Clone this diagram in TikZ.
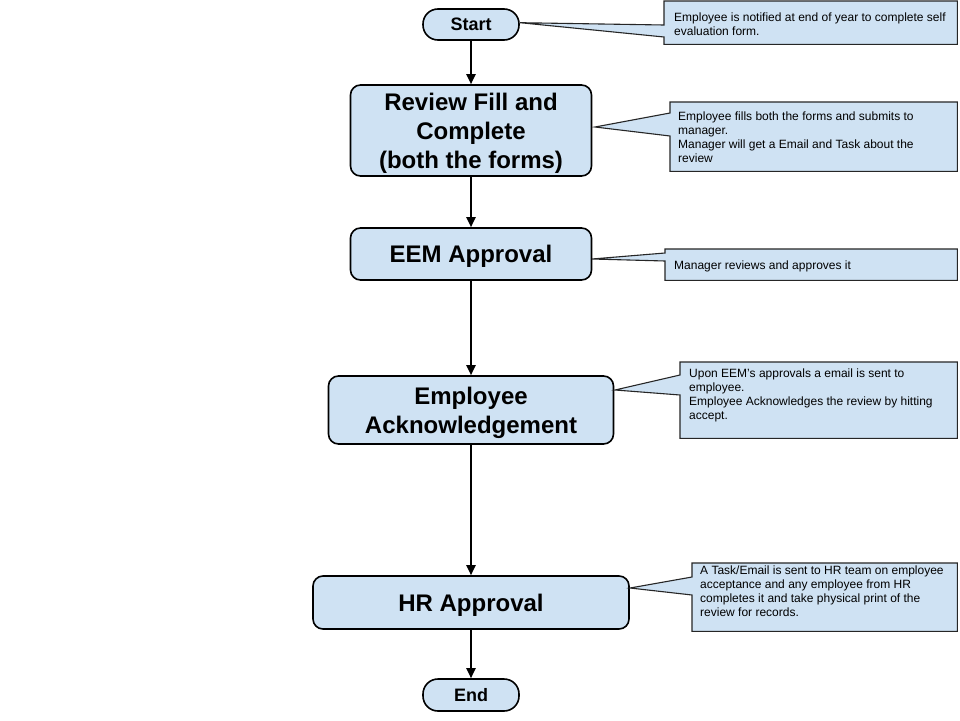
\documentclass[tikz,border=0pt]{standalone}
\usepackage{fontspec}
\setmainfont{Liberation Sans}
\usetikzlibrary{arrows.meta,calc}
\definecolor{boxfill}{HTML}{CFE2F3}

\begin{document}
\begin{tikzpicture}[x=1pt,y=-1pt,
  stepbox/.style={draw=black, line width=1.6pt, fill=boxfill, rounded corners=10pt,
    inner sep=0pt, align=center, text depth=0pt, font=\fontsize{24}{29}\selectfont\bfseries},
  terminal/.style={stepbox, rounded corners=15pt, font=\fontsize{18}{20}\selectfont\bfseries},
  flow/.style={draw=black, line width=2pt, -{Triangle[length=10pt,width=9pt]}},
  notebox/.style={draw=none, inner sep=0pt, anchor=north west},
  notetext/.style={inner sep=0pt, anchor=north west, align=left,
    font=\fontsize{12}{14}\selectfont},
  noteshape/.style={draw=black!85, line width=1.1pt, fill=boxfill, line join=miter}
]
\useasboundingbox[fill=white] (0,0) rectangle (960,720);

% process steps, all on one vertical axis
\node[terminal, minimum width=96pt, minimum height=31pt] (start) at (471,24.5) {Start};
\node[stepbox, minimum width=241pt, minimum height=91pt] (fill) at (471,130.5)
  {Review Fill and\\Complete\\(both the forms)};
\node[stepbox, minimum width=241pt, minimum height=52pt] (eem) at (471,254) {EEM Approval};
\node[stepbox, minimum width=285pt, minimum height=68pt] (ack) at (471,410)
  {Employee\\Acknowledgement};
\node[stepbox, minimum width=316pt, minimum height=53pt] (hr) at (471,602.5) {HR Approval};
\node[terminal, minimum width=96pt, minimum height=32pt] (end) at (471,695) {End};

% flow arrows
\draw[flow] (start) -- (fill);
\draw[flow] (fill) -- (eem);
\draw[flow] (eem) -- (ack);
\draw[flow] (ack) -- (hr);
\draw[flow] (hr) -- (end);

% note frames
\node[notebox, minimum width=293pt, minimum height=43pt] (n1) at (664,1) {};
\node[notebox, minimum width=287pt, minimum height=69pt] (n2) at (670,102) {};
\node[notebox, minimum width=292pt, minimum height=31pt] (n3) at (665,249) {};
\node[notebox, minimum width=277pt, minimum height=76pt] (n4) at (680,362) {};
\node[notebox, minimum width=265pt, minimum height=68pt] (n5) at (692,563) {};

% pointer tips
\coordinate (p1) at (520,22.7);
\coordinate (p2) at (595,127);
\coordinate (p3) at (592,259);
\coordinate (p4) at (615,390);
\coordinate (p5) at (630,588);

% callout outlines with their pointers
\draw[noteshape] (n1.north west) -- (n1.north east) -- (n1.south east) -- (n1.south west)
  -- ($(n1.north west)+(0,36)$) -- (p1) -- ($(n1.north west)+(0,24)$) -- cycle;
\draw[noteshape] (n2.north west) -- (n2.north east) -- (n2.south east) -- (n2.south west)
  -- ($(n2.north west)+(0,34)$) -- (p2) -- ($(n2.north west)+(0,11)$) -- cycle;
\draw[noteshape] (n3.north west) -- (n3.north east) -- (n3.south east) -- (n3.south west)
  -- ($(n3.north west)+(0,12)$) -- (p3) -- ($(n3.north west)+(0,4)$) -- cycle;
\draw[noteshape] (n4.north west) -- (n4.north east) -- (n4.south east) -- (n4.south west)
  -- ($(n4.north west)+(0,33)$) -- (p4) -- ($(n4.north west)+(0,13)$) -- cycle;
\draw[noteshape] (n5.north west) -- (n5.north east) -- (n5.south east) -- (n5.south west)
  -- ($(n5.north west)+(0,32)$) -- (p5) -- ($(n5.north west)+(0,14)$) -- cycle;

% callout texts
\node[notetext] (t1) at (674,12.7)
  {Employee is notified at end of year to complete self\\evaluation form.};
\node[notetext] (t2) at (678,111.5)
  {Employee fills both the forms and submits to\\manager.\\Manager will get a Email and Task about the\\review};
\node[notetext] (t3) at (674,260.7) {Manager reviews and approves it};
\node[notetext] (t4) at (689,368.2)
  {Upon EEM's approvals a email is sent to\\employee.\\Employee Acknowledges the review by hitting\\accept.};
\node[notetext] (t5) at (700,565.7)
  {A Task/Email is sent to HR team on employee\\acceptance and any employee from HR\\completes it and take physical print of the\\review for records.};
\end{tikzpicture}
\end{document}
